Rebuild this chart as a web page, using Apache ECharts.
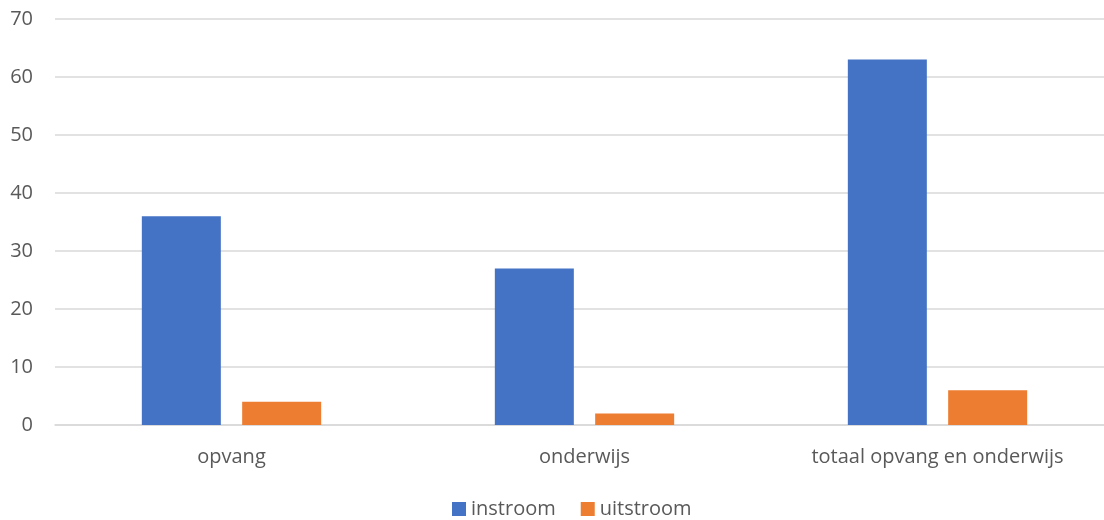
<!DOCTYPE html>
<html>
<head>
<meta charset="utf-8">
<script src="https://cdn.jsdelivr.net/npm/echarts@6/dist/echarts.min.js"></script>
<style>html,body{margin:0;padding:0;background:#fff;}#c{width:1104px;height:520px;}</style>
</head>
<body>
<div id="c"></div>
<script>
const categories = ['opvang', 'onderwijs', 'totaal opvang en onderwijs'];
const instroom = [36, 27, 63];
const uitstroom = [4, 2, 6];
const seriesNames = ['instroom', 'uitstroom'];

const chart = echarts.init(document.getElementById('c'), null, {renderer: 'canvas'});
const font = '"Open Sans", sans-serif';
chart.setOption({
  animation: false,
  textStyle: {fontFamily: font},
  grid: {left: 55, top: 19, width: 1059, height: 406, containLabel: false, outerBoundsMode: 'none'},
  legend: {
    data: seriesNames,
    top: 494,
    left: 447,
    icon: 'rect',
    itemWidth: 14,
    itemHeight: 14,
    itemGap: 25,
    textStyle: {fontSize: 20, color: '#595959', fontFamily: font}
  },
  xAxis: {
    type: 'category',
    data: categories,
    axisLine: {lineStyle: {color: '#d9d9d9', width: 1.5}},
    axisTick: {show: false},
    axisLabel: {fontSize: 20, color: '#595959', margin: 22, fontFamily: font}
  },
  yAxis: {
    type: 'value',
    min: 0, max: 70, interval: 10,
    axisLine: {show: false},
    axisTick: {show: false},
    splitLine: {lineStyle: {color: '#d9d9d9', width: 1.5}},
    axisLabel: {fontSize: 20, color: '#595959', margin: 22, fontFamily: font}
  },
  series: [
    {name: seriesNames[0], type: 'bar', data: instroom, barWidth: 79, barGap: '27%', itemStyle: {color: '#4472C4'}},
    {name: seriesNames[1], type: 'bar', data: uitstroom, barWidth: 79, itemStyle: {color: '#ED7D31'}}
  ]
});
</script>
</body>
</html>
